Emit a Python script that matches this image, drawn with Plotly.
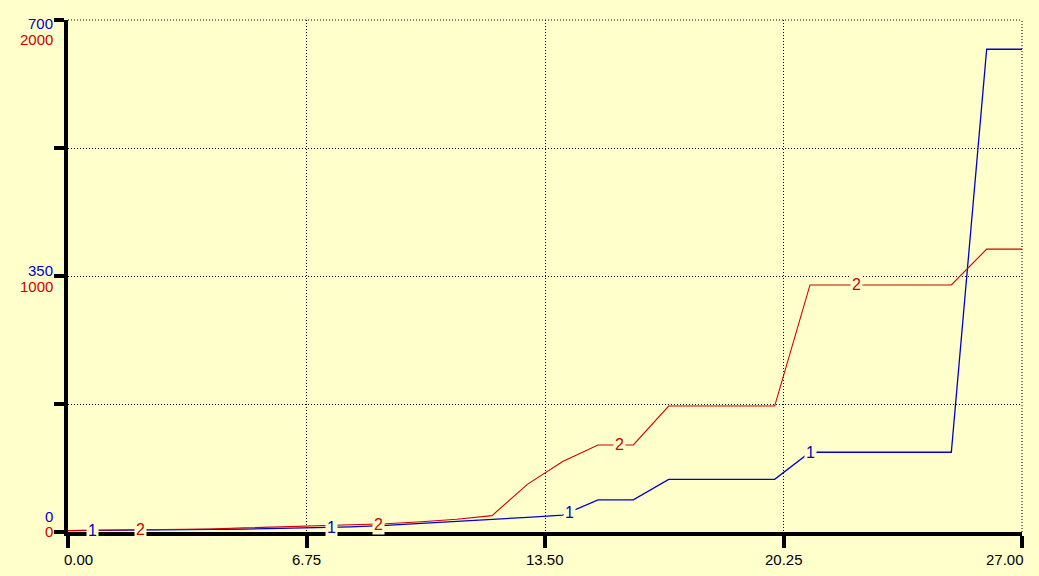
import numpy as np
import plotly.graph_objects as go

# ---- data ----
time = list(range(0, 28))
series1 = [2, 2.3, 2.7, 3, 3.5, 4, 5, 5.5, 7, 9, 12, 14, 18, 20,
           23, 44, 44, 72, 72, 72, 72, 109, 109, 109, 109, 109, 660, 660]
series2 = [6, 7, 8, 9, 12, 16, 20, 23, 27, 32, 40, 50, 64, 186,
           275, 340, 340, 492, 492, 492, 492, 965, 965, 965, 965, 965, 1105, 1105]

x_ticks = [0, 6.75, 13.5, 20.25, 27]
x_tick_labels = ["0.00", "6.75", "13.50", "20.25", "27.00"]
y1_tick_vals = [0, 350, 700]
y1_tick_labels = ["0", "350", "700"]
y2_tick_vals = [0, 1000, 2000]
y2_tick_labels = ["0", "1000", "2000"]

label1_t = [0.68, 7.47, 14.2, 21.0]
label2_t = [2.04, 8.8, 15.6, 22.33]

BG = "#FFFFCC"
BLUE = "#0000CC"
RED = "#D00000"
FONT = "Liberation Sans, Arial, sans-serif"

fig = go.Figure()
fig.add_trace(go.Scatter(x=time, y=series2, mode="lines", yaxis="y2",
                         line=dict(color=RED, width=1.1), hoverinfo="skip"))
fig.add_trace(go.Scatter(x=time, y=series1, mode="lines", yaxis="y",
                         line=dict(color=BLUE, width=1.3), hoverinfo="skip"))

ann = []
for t in label1_t:
    ann.append(dict(x=t, y=float(np.interp(t, time, series1)), xref="x", yref="y",
                    text="1", showarrow=False, bgcolor=BG, borderpad=1,
                    font=dict(family=FONT, size=16, color=BLUE)))
for t in label2_t:
    ann.append(dict(x=t, y=float(np.interp(t, time, series2)), xref="x", yref="y2",
                    text="2", showarrow=False, bgcolor=BG, borderpad=1,
                    font=dict(family=FONT, size=16, color=RED)))

# y tick labels (vertical offsets in pixels relative to the tick)
y1_shift = {0: 16, 350: 6, 700: -3}
y2_shift = {0: 1, 1000: -10, 2000: -19}
for v, s in zip(y1_tick_vals, y1_tick_labels):
    ann.append(dict(x=0, y=v, xref="paper", yref="y", text=s, showarrow=False,
                    xanchor="right", yanchor="middle", xshift=-13, yshift=y1_shift[v],
                    font=dict(family=FONT, size=15, color=BLUE)))
for v, s in zip(y2_tick_vals, y2_tick_labels):
    ann.append(dict(x=0, y=v, xref="paper", yref="y2", text=s, showarrow=False,
                    xanchor="right", yanchor="middle", xshift=-13, yshift=y2_shift[v],
                    font=dict(family=FONT, size=15, color=RED)))

# x tick labels
for i, (v, s) in enumerate(zip(x_ticks, x_tick_labels)):
    if i == 0:
        xa, xs = "left", -6
    elif i == len(x_ticks) - 1:
        xa, xs = "right", 4
    else:
        xa, xs = "center", 0
    ann.append(dict(x=v, y=0, xref="x", yref="paper", text=s, showarrow=False,
                    xanchor=xa, yanchor="middle", xshift=xs, yshift=-27,
                    font=dict(family=FONT, size=15, color="black")))

DOT = "1px,2px"
fig.update_layout(
    width=1039, height=576,
    margin=dict(l=68, r=17, t=20, b=44, autoexpand=False),
    paper_bgcolor=BG, plot_bgcolor=BG,
    showlegend=False,
    annotations=ann,
    shapes=[
        dict(type="line", xref="paper", yref="paper", x0=0, x1=1, y0=1, y1=1,
             line=dict(color="black", width=1, dash=DOT), layer="below"),
        dict(type="line", xref="paper", yref="paper", x0=1, x1=1, y0=0, y1=1,
             line=dict(color="black", width=1, dash=DOT), layer="below"),
    ],
    xaxis=dict(range=[0, 27], tickvals=x_ticks, showticklabels=False,
               ticks="outside", ticklen=12, tickwidth=4, tickcolor="black",
               showline=True, linewidth=4, linecolor="black",
               showgrid=True, gridcolor="black", gridwidth=1, griddash=DOT,
               zeroline=False, fixedrange=True, automargin=False),
    yaxis=dict(range=[0, 700], dtick=175, tick0=0, showticklabels=False,
               ticks="outside", ticklen=10, tickwidth=4, tickcolor="black",
               showline=True, linewidth=4, linecolor="black",
               showgrid=True, gridcolor="black", gridwidth=1, griddash=DOT,
               zeroline=False, fixedrange=True, automargin=False),
    yaxis2=dict(range=[0, 2000], overlaying="y", side="left", showticklabels=False,
                showgrid=False, zeroline=False, ticks="", showline=False,
                fixedrange=True, automargin=False),
)

fig.write_html("out.html", config={"displayModeBar": False},
               post_script="document.body.style.margin='0';"
                           "document.body.style.background='" + BG + "';")
